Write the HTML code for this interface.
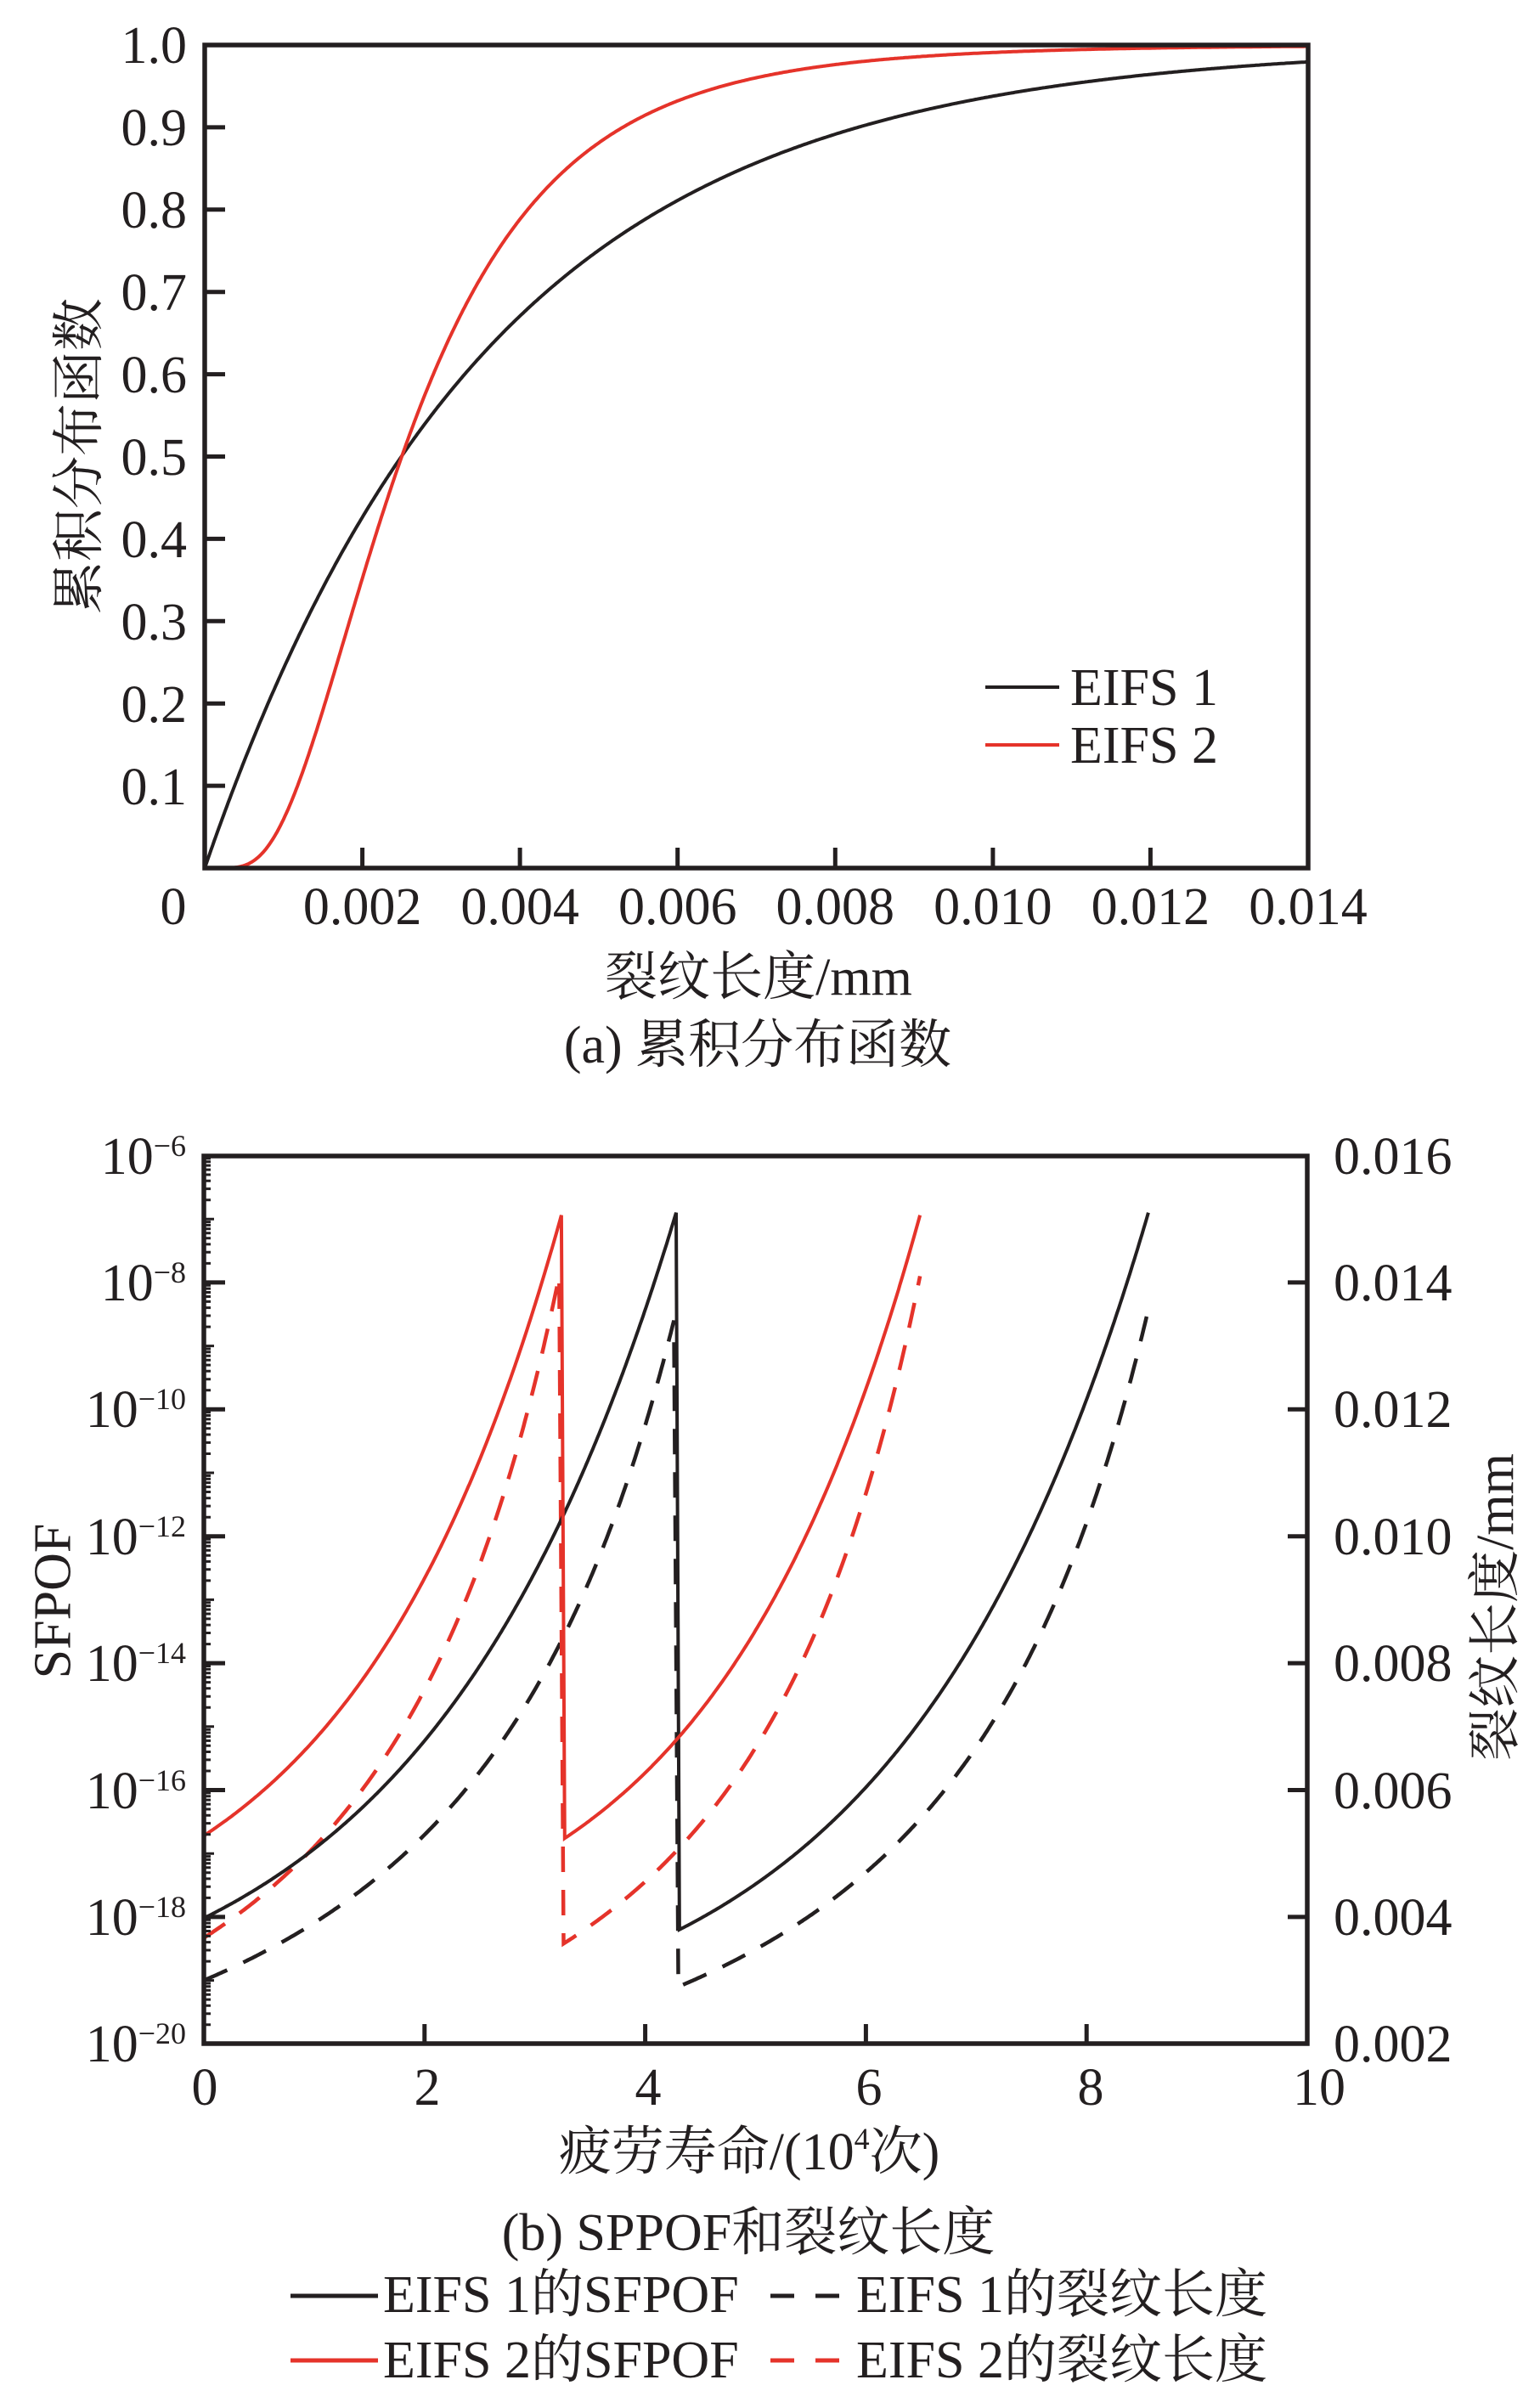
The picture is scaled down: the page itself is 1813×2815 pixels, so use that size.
<!DOCTYPE html>
<html>
<head>
<meta charset="utf-8">
<style>
html,body{margin:0;padding:0;background:#fff;}
svg{display:block;}
text{font-family:"Liberation Serif","Noto Serif CJK SC",serif;fill:#231f20;}
</style>
</head>
<body>
<svg xmlns="http://www.w3.org/2000/svg" width="1813" height="2815" viewBox="0 0 1813 2815">
<rect x="0" y="0" width="1813" height="2815" fill="#fff"/>
<defs>
<clipPath id="clipA"><rect x="241" y="53" width="1299" height="969"/></clipPath>
<clipPath id="clipB"><rect x="240" y="1361" width="1299" height="1045"/></clipPath>
</defs>

<!-- ============ TOP CHART ============ -->
<g clip-path="url(#clipA)" fill="none" stroke-width="4">
<path id="c1b" stroke="#231f20" d=""/>
<path id="c1r" stroke="#e5332a" d=""/>
</g>
<rect x="241" y="53" width="1299" height="969" fill="none" stroke="#231f20" stroke-width="5.5"/>
<path stroke="#231f20" stroke-width="5" fill="none" d="M241 925.1h24M241 828.2h24M241 731.3h24M241 634.4h24M241 537.5h24M241 440.6h24M241 343.7h24M241 246.8h24M241 149.9h24
M426.6 1022v-24M612.1 1022v-24M797.7 1022v-24M983.3 1022v-24M1168.9 1022v-24M1354.4 1022v-24"/>

<g font-size="62" text-anchor="end">
<text x="220" y="74">1.0</text>
<text x="220" y="171">0.9</text>
<text x="220" y="268">0.8</text>
<text x="220" y="365">0.7</text>
<text x="220" y="462">0.6</text>
<text x="220" y="559">0.5</text>
<text x="220" y="656">0.4</text>
<text x="220" y="753">0.3</text>
<text x="220" y="850">0.2</text>
<text x="220" y="947">0.1</text>
</g>
<g font-size="62" text-anchor="middle">
<text x="204" y="1088">0</text>
<text x="426.6" y="1088">0.002</text>
<text x="612.1" y="1088">0.004</text>
<text x="797.7" y="1088">0.006</text>
<text x="983.3" y="1088">0.008</text>
<text x="1168.9" y="1088">0.010</text>
<text x="1354.4" y="1088">0.012</text>
<text x="1540" y="1088">0.014</text>
</g>
<text font-size="62" text-anchor="middle" transform="translate(114,537) rotate(-90)">累积分布函数</text>
<text font-size="62" text-anchor="middle" x="893" y="1171">裂纹长度/mm</text>
<text font-size="62" text-anchor="middle" x="892" y="1251">(a) 累积分布函数</text>

<!-- top legend -->
<path d="M1160 809H1247" stroke="#231f20" stroke-width="4"/>
<path d="M1160 877H1247" stroke="#e5332a" stroke-width="4"/>
<text font-size="62" x="1260" y="830">EIFS 1</text>
<text font-size="62" x="1260" y="898">EIFS 2</text>

<!-- ============ BOTTOM CHART ============ -->
<g clip-path="url(#clipB)" fill="none" stroke-miterlimit="4">
<path id="c2bd" stroke="#231f20" stroke-width="4.5" stroke-dasharray="30 21" d=""/>
<path id="c2rd" stroke="#e5332a" stroke-width="4.5" stroke-dasharray="30 21" d=""/>
<path id="c2bs" stroke="#231f20" stroke-width="4" d=""/>
<path id="c2rs" stroke="#e5332a" stroke-width="4" d=""/>
</g>
<path id="minor" stroke="#231f20" stroke-width="3" fill="none" d=""/>
<rect x="240" y="1361" width="1299" height="1045" fill="none" stroke="#231f20" stroke-width="5.5"/>
<path stroke="#231f20" stroke-width="5" fill="none" d="M240 1509.9h25M240 1659.3h25M240 1808.7h25M240 1958.1h25M240 2107.5h25M240 2256.9h25
M1539 1509.9h-23M1539 1659.3h-23M1539 1808.7h-23M1539 1958.1h-23M1539 2107.5h-23M1539 2256.9h-23
M499.8 2406v-23M759.6 2406v-23M1019.4 2406v-23M1279.2 2406v-23"/>

<g font-size="62" text-anchor="end">
<text x="219" y="1382">10<tspan font-size="36" dy="-21">−6</tspan></text>
<text x="219" y="1531">10<tspan font-size="36" dy="-21">−8</tspan></text>
<text x="219" y="1680">10<tspan font-size="36" dy="-21">−10</tspan></text>
<text x="219" y="1830">10<tspan font-size="36" dy="-21">−12</tspan></text>
<text x="219" y="1979">10<tspan font-size="36" dy="-21">−14</tspan></text>
<text x="219" y="2129">10<tspan font-size="36" dy="-21">−16</tspan></text>
<text x="219" y="2278">10<tspan font-size="36" dy="-21">−18</tspan></text>
<text x="219" y="2427">10<tspan font-size="36" dy="-21">−20</tspan></text>
</g>
<g font-size="62">
<text x="1570" y="1382">0.016</text>
<text x="1570" y="1531">0.014</text>
<text x="1570" y="1680">0.012</text>
<text x="1570" y="1830">0.010</text>
<text x="1570" y="1979">0.008</text>
<text x="1570" y="2129">0.006</text>
<text x="1570" y="2278">0.004</text>
<text x="1570" y="2427">0.002</text>
</g>
<g font-size="62" text-anchor="middle">
<text x="241" y="2478">0</text>
<text x="503" y="2478">2</text>
<text x="763" y="2478">4</text>
<text x="1023" y="2478">6</text>
<text x="1284" y="2478">8</text>
<text x="1553" y="2478">10</text>
</g>
<text font-size="62" text-anchor="middle" transform="translate(82.5,1885) rotate(-90)">SFPOF</text>
<text font-size="62" text-anchor="middle" transform="translate(1781,1892) rotate(-90)">裂纹长度/mm</text>
<text font-size="62" text-anchor="middle" x="882" y="2554">疲劳寿命/(10<tspan font-size="36" dy="-24">4</tspan><tspan dy="24">次)</tspan></text>
<text font-size="62" text-anchor="middle" x="881" y="2649">(b) SPPOF和裂纹长度</text>

<!-- bottom legend -->
<path d="M342 2703H445" stroke="#231f20" stroke-width="5"/>
<path d="M342 2779H445" stroke="#e5332a" stroke-width="5"/>
<path d="M907 2703H935M960 2703H988" stroke="#231f20" stroke-width="5"/>
<path d="M907 2779H935M960 2779H988" stroke="#e5332a" stroke-width="5"/>
<text font-size="62" x="451" y="2722">EIFS 1的SFPOF</text>
<text font-size="62" x="451" y="2799">EIFS 2的SFPOF</text>
<text font-size="62" x="1008" y="2722">EIFS 1的裂纹长度</text>
<text font-size="62" x="1008" y="2799">EIFS 2的裂纹长度</text>
</svg>

<script>
(function(){
function erf(x){var s=x<0?-1:1;x=Math.abs(x);var t=1/(1+0.3275911*x);var y=1-(((((1.061405429*t-1.453152027)*t)+1.421413741)*t-0.284496736)*t+0.254829592)*t*Math.exp(-x*x);return s*y;}
function Phi(z){return 0.5*(1+erf(z/Math.SQRT2));}
function f(n){return n.toFixed(1);}
function tx(x){return 241+x/0.014*1299;}
function ty(v){return 1022-v*969;}
var b='',r='';
for(var i=0;i<=700;i++){
  var x=0.014*i/700;
  var vb=1-Math.exp(-x/0.0036);
  var vr=x<=0?0:Phi(Math.log(x/0.0025)/0.587);
  b+=(i?'L':'M')+f(tx(x))+' '+f(ty(vb));
  r+=(i?'L':'M')+f(tx(x))+' '+f(ty(vr));
}
document.getElementById('c1b').setAttribute('d',b);
document.getElementById('c1r').setAttribute('d',r);

function bx(N){return 240+N*129.9;}
function bys(k){return 1360.5+(k-6)*74.7;}
function bya(a){return 1360.5+(0.016-a)/0.002*149.4;}
function sseg(N0,N1,k0,k1,c,first){
  var s='';
  for(var i=0;i<=300;i++){
    var t=i/300,N=N0+(N1-N0)*t;
    var k=k0-(k0-k1)*(Math.exp(c*t)-1)/(Math.exp(c)-1);
    s+=((first&&i===0)?'M':'L')+f(bx(N))+' '+f(bys(k));
  }
  return s;
}
function dseg(N0,N1,a0,a1,first){
  var A=Math.pow(a0,-0.5),B=Math.pow(a1,-0.5),s='';
  for(var i=0;i<=300;i++){
    var t=i/300,N=N0+(N1-N0)*t;
    var a=Math.pow(A-(A-B)*t,-2);
    s+=((first&&i===0)?'M':'L')+f(bx(N))+' '+f(bya(a));
  }
  return s;
}
document.getElementById('c2rs').setAttribute('d',sseg(0,3.24,16.72,6.94,1.7,true)+sseg(3.27,6.49,16.76,6.94,1.7,false));
document.getElementById('c2bs').setAttribute('d',sseg(0,4.28,18.02,6.9,1.9,true)+sseg(4.31,8.56,18.2,6.9,1.9,false));
document.getElementById('c2rd').setAttribute('d',dseg(0,3.22,0.00367,0.0141,true)+dseg(3.26,6.49,0.00358,0.0141,false));
document.getElementById('c2bd').setAttribute('d',dseg(0,4.26,0.0030,0.0134,true)+dseg(4.30,8.56,0.0029,0.01358,false));

var m='';
for(var d=6;d<=19;d++){
  for(var q=2;q<=9;q++){
    var y=bys(d+1-Math.log10(q));
    m+='M240 '+f(y)+'h8';
  }
}
for(var k=7;k<=19;k+=2){m+='M240 '+f(bys(k))+'h12';}
document.getElementById('minor').setAttribute('d',m);
})();
</script>
</body>
</html>
